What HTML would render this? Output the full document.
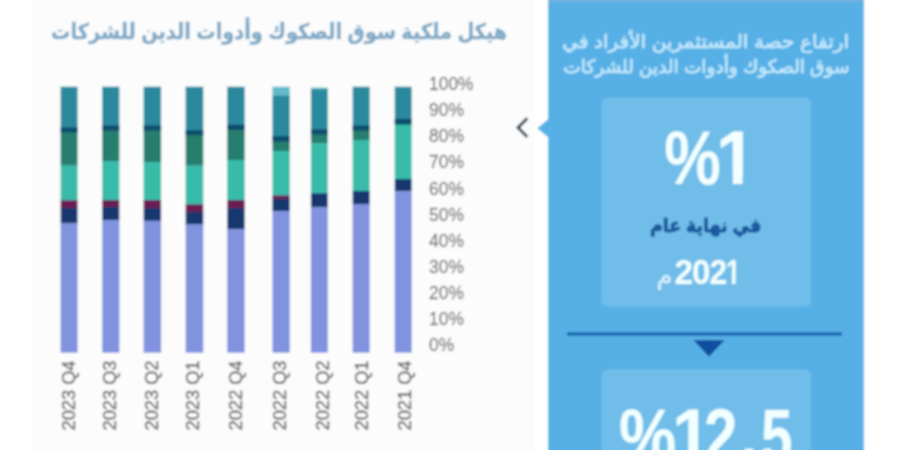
<!DOCTYPE html>
<html lang="ar">
<head>
<meta charset="utf-8">
<title>هيكل ملكية سوق الصكوك وأدوات الدين للشركات</title>
<style>
html,body{margin:0;padding:0;background:#fff;}
body{width:900px;height:450px;overflow:hidden;}
svg{display:block;}
text{white-space:pre;}
</style>
</head>
<body>
<svg width="900" height="450" viewBox="0 0 900 450">
<defs><filter id="soft" x="-5%" y="-5%" width="110%" height="110%"><feGaussianBlur stdDeviation="1.1"/></filter></defs>
<g filter="url(#soft)">
<rect x="-20" y="-20" width="940" height="490" fill="#ffffff"/>
<rect x="32" y="-20" width="502" height="490" fill="#fcfcfc"/>
<rect x="548" y="-20" width="316" height="490" fill="#57b0e6"/>
<rect x="548" y="-20" width="316" height="22" fill="#6fb0dd"/>
<polygon points="549,118.5 537.2,128.2 549,138" fill="#57b0e6"/>
<polyline points="527.3,118.2 518,127.6 527.3,137" fill="none" stroke="#2a4058" stroke-width="3"/>
<rect x="601.8" y="97.8" width="209" height="208.6" rx="6" fill="#71bde9"/>
<rect x="601.8" y="369.6" width="209" height="120" rx="6" fill="#71bde9"/>
<rect x="567" y="332.4" width="275" height="3.2" fill="#1160aa"/>
<polygon points="693.3,340 724.7,340 709,356.7" fill="#0c4f9e"/>
<rect x="60.6" y="86.7" width="17.0" height="41.6" fill="#2b899d"/>
<rect x="60.6" y="128.0" width="17.0" height="4.3" fill="#08506e"/>
<rect x="60.6" y="132.0" width="17.0" height="33.8" fill="#267e6e"/>
<rect x="60.6" y="165.5" width="17.0" height="35.1" fill="#38bba8"/>
<rect x="60.6" y="200.3" width="17.0" height="8.0" fill="#6b1a55"/>
<rect x="60.6" y="208.0" width="17.0" height="15.6" fill="#13386e"/>
<rect x="60.6" y="223.3" width="17.0" height="129.4" fill="#8193de"/>
<rect x="60.6" y="127.4" width="17.0" height="5.2" fill="#08506e"/>
<rect x="102.2" y="86.7" width="17.2" height="39.6" fill="#2b899d"/>
<rect x="102.2" y="126.0" width="17.2" height="4.3" fill="#08506e"/>
<rect x="102.2" y="130.0" width="17.2" height="31.3" fill="#267e6e"/>
<rect x="102.2" y="161.0" width="17.2" height="39.3" fill="#38bba8"/>
<rect x="102.2" y="200.0" width="17.2" height="7.3" fill="#6b1a55"/>
<rect x="102.2" y="207.0" width="17.2" height="13.3" fill="#13386e"/>
<rect x="102.2" y="220.0" width="17.2" height="132.7" fill="#8193de"/>
<rect x="102.2" y="125.4" width="17.2" height="5.2" fill="#08506e"/>
<rect x="143.6" y="86.7" width="17.5" height="39.6" fill="#2b899d"/>
<rect x="143.6" y="126.0" width="17.5" height="4.3" fill="#08506e"/>
<rect x="143.6" y="130.0" width="17.5" height="32.3" fill="#267e6e"/>
<rect x="143.6" y="162.0" width="17.5" height="38.3" fill="#38bba8"/>
<rect x="143.6" y="200.0" width="17.5" height="8.3" fill="#6b1a55"/>
<rect x="143.6" y="208.0" width="17.5" height="13.0" fill="#13386e"/>
<rect x="143.6" y="220.7" width="17.5" height="132.0" fill="#8193de"/>
<rect x="143.6" y="125.4" width="17.5" height="5.2" fill="#08506e"/>
<rect x="185.6" y="86.7" width="17.7" height="44.3" fill="#2b899d"/>
<rect x="185.6" y="130.7" width="17.7" height="4.3" fill="#08506e"/>
<rect x="185.6" y="134.7" width="17.7" height="31.1" fill="#267e6e"/>
<rect x="185.6" y="165.5" width="17.7" height="39.2" fill="#38bba8"/>
<rect x="185.6" y="204.4" width="17.7" height="7.9" fill="#6b1a55"/>
<rect x="185.6" y="212.0" width="17.7" height="12.7" fill="#13386e"/>
<rect x="185.6" y="224.4" width="17.7" height="128.3" fill="#8193de"/>
<rect x="185.6" y="130.1" width="17.7" height="5.2" fill="#08506e"/>
<rect x="227.2" y="86.7" width="17.5" height="38.9" fill="#2b899d"/>
<rect x="227.2" y="125.3" width="17.5" height="4.3" fill="#08506e"/>
<rect x="227.2" y="129.3" width="17.5" height="31.0" fill="#267e6e"/>
<rect x="227.2" y="160.0" width="17.5" height="40.3" fill="#38bba8"/>
<rect x="227.2" y="200.0" width="17.5" height="8.3" fill="#6b1a55"/>
<rect x="227.2" y="208.0" width="17.5" height="21.3" fill="#13386e"/>
<rect x="227.2" y="229.0" width="17.5" height="123.7" fill="#8193de"/>
<rect x="227.2" y="124.7" width="17.5" height="5.2" fill="#08506e"/>
<rect x="272.4" y="86.7" width="17.4" height="9.1" fill="#63b9c9"/>
<rect x="272.4" y="95.5" width="17.4" height="41.5" fill="#2b899d"/>
<rect x="272.4" y="136.7" width="17.4" height="4.6" fill="#08506e"/>
<rect x="272.4" y="141.0" width="17.4" height="10.3" fill="#267e6e"/>
<rect x="272.4" y="151.0" width="17.4" height="44.8" fill="#38bba8"/>
<rect x="272.4" y="195.5" width="17.4" height="3.8" fill="#6b1a55"/>
<rect x="272.4" y="199.0" width="17.4" height="12.3" fill="#13386e"/>
<rect x="272.4" y="211.0" width="17.4" height="141.7" fill="#8193de"/>
<rect x="272.4" y="136.1" width="17.4" height="5.5" fill="#08506e"/>
<rect x="310.9" y="87.6" width="16.9" height="1.9" fill="#63b9c9"/>
<rect x="310.9" y="89.2" width="16.9" height="41.1" fill="#2b899d"/>
<rect x="310.9" y="130.0" width="16.9" height="4.3" fill="#08506e"/>
<rect x="310.9" y="134.0" width="16.9" height="9.6" fill="#267e6e"/>
<rect x="310.9" y="143.3" width="16.9" height="50.3" fill="#38bba8"/>
<rect x="310.9" y="193.3" width="16.9" height="14.3" fill="#13386e"/>
<rect x="310.9" y="207.3" width="16.9" height="145.4" fill="#8193de"/>
<rect x="310.9" y="129.4" width="16.9" height="5.2" fill="#08506e"/>
<rect x="352.6" y="86.7" width="17.1" height="39.6" fill="#2b899d"/>
<rect x="352.6" y="126.0" width="17.1" height="4.3" fill="#08506e"/>
<rect x="352.6" y="130.0" width="17.1" height="10.3" fill="#267e6e"/>
<rect x="352.6" y="140.0" width="17.1" height="51.3" fill="#38bba8"/>
<rect x="352.6" y="191.0" width="17.1" height="13.7" fill="#13386e"/>
<rect x="352.6" y="204.4" width="17.1" height="148.3" fill="#8193de"/>
<rect x="352.6" y="125.4" width="17.1" height="5.2" fill="#08506e"/>
<rect x="394.7" y="86.7" width="17.0" height="33.1" fill="#2b899d"/>
<rect x="394.7" y="119.5" width="17.0" height="4.8" fill="#08506e"/>
<rect x="394.7" y="124.0" width="17.0" height="55.3" fill="#38bba8"/>
<rect x="394.7" y="179.0" width="17.0" height="12.3" fill="#13386e"/>
<rect x="394.7" y="191.0" width="17.0" height="161.7" fill="#8193de"/>
<rect x="394.7" y="118.9" width="17.0" height="5.7" fill="#08506e"/>
<text transform="matrix(0.9659 0 0 1.0640 429.05 90.15)" font-family='"Liberation Sans", "DejaVu Sans", sans-serif' font-size="18" fill="#76767c" stroke="#76767c" stroke-width="0.25">100%</text>
<text transform="matrix(0.9659 0 0 1.0640 429.05 116.24)" font-family='"Liberation Sans", "DejaVu Sans", sans-serif' font-size="18" fill="#76767c" stroke="#76767c" stroke-width="0.25">90%</text>
<text transform="matrix(0.9659 0 0 1.0640 429.05 142.33)" font-family='"Liberation Sans", "DejaVu Sans", sans-serif' font-size="18" fill="#76767c" stroke="#76767c" stroke-width="0.25">80%</text>
<text transform="matrix(0.9659 0 0 1.0640 429.05 168.42)" font-family='"Liberation Sans", "DejaVu Sans", sans-serif' font-size="18" fill="#76767c" stroke="#76767c" stroke-width="0.25">70%</text>
<text transform="matrix(0.9659 0 0 1.0640 429.05 194.51)" font-family='"Liberation Sans", "DejaVu Sans", sans-serif' font-size="18" fill="#76767c" stroke="#76767c" stroke-width="0.25">60%</text>
<text transform="matrix(0.9659 0 0 1.0640 429.05 220.60)" font-family='"Liberation Sans", "DejaVu Sans", sans-serif' font-size="18" fill="#76767c" stroke="#76767c" stroke-width="0.25">50%</text>
<text transform="matrix(0.9659 0 0 1.0640 429.05 246.69)" font-family='"Liberation Sans", "DejaVu Sans", sans-serif' font-size="18" fill="#76767c" stroke="#76767c" stroke-width="0.25">40%</text>
<text transform="matrix(0.9659 0 0 1.0640 429.05 272.78)" font-family='"Liberation Sans", "DejaVu Sans", sans-serif' font-size="18" fill="#76767c" stroke="#76767c" stroke-width="0.25">30%</text>
<text transform="matrix(0.9659 0 0 1.0640 429.05 298.87)" font-family='"Liberation Sans", "DejaVu Sans", sans-serif' font-size="18" fill="#76767c" stroke="#76767c" stroke-width="0.25">20%</text>
<text transform="matrix(0.9659 0 0 1.0640 429.05 324.96)" font-family='"Liberation Sans", "DejaVu Sans", sans-serif' font-size="18" fill="#76767c" stroke="#76767c" stroke-width="0.25">10%</text>
<text transform="matrix(0.9659 0 0 1.0640 429.05 351.05)" font-family='"Liberation Sans", "DejaVu Sans", sans-serif' font-size="18" fill="#76767c" stroke="#76767c" stroke-width="0.25">0%</text>
<text transform="matrix(0 -1.0148 1.0148 0 75.34 430.51)" font-family='"Liberation Sans", "DejaVu Sans", sans-serif' font-size="18" fill="#666666" stroke="#666666" stroke-width="0.4">2023 Q4</text>
<text transform="matrix(0 -1.0148 1.0148 0 115.84 430.51)" font-family='"Liberation Sans", "DejaVu Sans", sans-serif' font-size="18" fill="#666666" stroke="#666666" stroke-width="0.4">2023 Q3</text>
<text transform="matrix(0 -1.0148 1.0148 0 157.84 430.51)" font-family='"Liberation Sans", "DejaVu Sans", sans-serif' font-size="18" fill="#666666" stroke="#666666" stroke-width="0.4">2023 Q2</text>
<text transform="matrix(0 -1.0148 1.0148 0 199.34 430.51)" font-family='"Liberation Sans", "DejaVu Sans", sans-serif' font-size="18" fill="#666666" stroke="#666666" stroke-width="0.4">2023 Q1</text>
<text transform="matrix(0 -1.0148 1.0148 0 241.84 430.51)" font-family='"Liberation Sans", "DejaVu Sans", sans-serif' font-size="18" fill="#666666" stroke="#666666" stroke-width="0.4">2022 Q4</text>
<text transform="matrix(0 -1.0148 1.0148 0 286.34 430.51)" font-family='"Liberation Sans", "DejaVu Sans", sans-serif' font-size="18" fill="#666666" stroke="#666666" stroke-width="0.4">2022 Q3</text>
<text transform="matrix(0 -1.0148 1.0148 0 329.34 430.51)" font-family='"Liberation Sans", "DejaVu Sans", sans-serif' font-size="18" fill="#666666" stroke="#666666" stroke-width="0.4">2022 Q2</text>
<text transform="matrix(0 -1.0148 1.0148 0 368.34 430.51)" font-family='"Liberation Sans", "DejaVu Sans", sans-serif' font-size="18" fill="#666666" stroke="#666666" stroke-width="0.4">2022 Q1</text>
<text transform="matrix(0 -1.0148 1.0148 0 410.84 430.51)" font-family='"Liberation Sans", "DejaVu Sans", sans-serif' font-size="18" fill="#666666" stroke="#666666" stroke-width="0.4">2021 Q4</text>
<text y="184.3" font-family='"Liberation Sans", "DejaVu Sans", sans-serif' font-weight="700" font-size="76" fill="#f2ffff"><tspan x="664.22" textLength="56.46" lengthAdjust="spacingAndGlyphs">%</tspan><tspan x="715.67" textLength="40.60" lengthAdjust="spacingAndGlyphs">1</tspan></text>
<rect x="719.6" y="175.5" width="13.3" height="10" fill="#71bde9"/>
<rect x="742.5" y="175.5" width="14" height="10" fill="#71bde9"/>
<text y="284.1" font-family='"Liberation Sans", "DejaVu Sans", sans-serif' font-weight="700" font-size="35.7" fill="#f2ffff"><tspan x="674.44" textLength="18.60" lengthAdjust="spacingAndGlyphs">2</tspan><tspan x="691.99" textLength="18.36" lengthAdjust="spacingAndGlyphs">0</tspan><tspan x="709.49" textLength="17.79" lengthAdjust="spacingAndGlyphs">2</tspan><tspan x="726.04" textLength="14.46" lengthAdjust="spacingAndGlyphs">1</tspan></text>
<rect x="726.3" y="279.8" width="5.7" height="5.5" fill="#71bde9"/>
<rect x="735.6" y="279.8" width="6" height="5.5" fill="#71bde9"/>
<text y="461.6" font-family='"Liberation Sans", "DejaVu Sans", sans-serif' font-weight="700" font-size="76" fill="#f2ffff"><tspan x="618.90" y="461.6" textLength="57.30" lengthAdjust="spacingAndGlyphs">%</tspan><tspan x="671.95" y="461.6" textLength="39.12" lengthAdjust="spacingAndGlyphs">1</tspan><tspan x="703.91" y="461.6" textLength="33.50" lengthAdjust="spacingAndGlyphs">2</tspan><tspan x="740.76" y="460.40000000000003" textLength="16.54" lengthAdjust="spacingAndGlyphs">.</tspan><tspan x="761.06" y="461.6" textLength="31.52" lengthAdjust="spacingAndGlyphs">5</tspan></text>
<text transform="matrix(0.8857 0 0 1.0000 51.07 39.30)" font-family='"Liberation Sans", "DejaVu Sans", sans-serif' font-weight="700" font-size="21.84" fill="#7fa9c6" stroke="#7fa9c6" stroke-width="0.35" stroke-linejoin="round">هيكل ملكية سوق الصكوك وأدوات الدين للشركات</text>
<text transform="matrix(1.0733 0 0 1.0000 562.23 48.20)" font-family='"Liberation Sans", "DejaVu Sans", sans-serif' font-weight="400" font-size="18.68" fill="#c6eafd" stroke="#c6eafd" stroke-width="0.55" stroke-linejoin="round">ارتفاع حصة المستثمرين الأفراد في</text>
<text transform="matrix(0.9926 0 0 1.0000 563.31 73.20)" font-family='"Liberation Sans", "DejaVu Sans", sans-serif' font-weight="400" font-size="18.68" fill="#c6eafd" stroke="#c6eafd" stroke-width="0.55" stroke-linejoin="round">سوق الصكوك وأدوات الدين للشركات</text>
<text transform="matrix(0.9190 0 0 1.0000 649.92 231.70)" font-family='"Liberation Sans", "DejaVu Sans", sans-serif' font-weight="700" font-size="18.95" fill="#175a9e" stroke="#175a9e" stroke-width="1.0" stroke-linejoin="round">في نهاية عام</text>
<text transform="matrix(1.4444 0 0 1.3636 656.56 284.36)" font-family='"Liberation Sans", "DejaVu Sans", sans-serif' font-weight="400" font-size="18" fill="#dff5ff">م</text>
</g>
</svg>
</body>
</html>
